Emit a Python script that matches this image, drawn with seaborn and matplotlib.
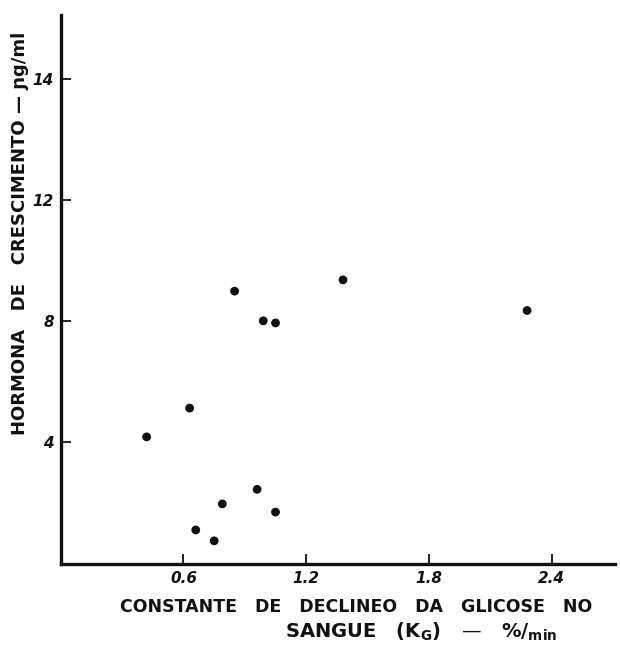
import matplotlib
matplotlib.use("Agg")
import matplotlib.pyplot as plt
import seaborn as sns
import pandas as pd

# values
kg = [0.85, 1.38, 2.28, 0.99, 1.05, 0.63, 0.42, 0.96, 0.79, 1.05, 0.66, 0.75]
gh = [8.99, 9.36, 8.35, 8.01, 7.94, 5.13, 4.18, 2.45, 1.97, 1.70, 1.11, 0.75]
x_ticks = [0.6, 1.2, 1.8, 2.4]
x_tick_labels = ["0.6", "1.2", "1.8", "2.4"]
y_ticks = [4, 8, 12, 16]
y_tick_labels = ["4", "8", "12", "14"]  # the original prints 14 at the top tick

df = pd.DataFrame({"kg": kg, "gh": gh})

sns.set_style("ticks")
plt.rcParams["font.family"] = ["DejaVu Sans"]

fig = plt.figure(figsize=(6.2, 6.49), dpi=100)
ax = fig.add_axes([0.098, 0.1316, 0.894, 0.8453])

sns.scatterplot(data=df, x="kg", y="gh", ax=ax, color="#111111", s=40,
                edgecolor="none", legend=False)

ax.set_xlim(0, 2.71)
ax.set_ylim(0, 18.1)
ax.set_xticks(x_ticks)
ax.set_xticklabels(x_tick_labels, fontsize=11, fontstyle="italic", fontweight="bold")
ax.set_yticks(y_ticks)
ax.set_yticklabels(y_tick_labels, fontsize=11, fontstyle="italic", fontweight="bold")
ax.tick_params(direction="in", length=7, width=1.3, colors="#111111", pad=5)
ax.set_xlabel("")
ax.set_ylabel("")

sns.despine(ax=ax)
for side in ["left", "bottom"]:
    ax.spines[side].set_linewidth(2.4)
    ax.spines[side].set_color("#111111")

lab = dict(fontweight="bold", color="#111111", ha="center", va="center")
fig.text(0.032, 0.64, "HORMONA   DE   CRESCIMENTO — ɲg/ml", rotation=90,
         fontsize=13, **lab)
fig.text(0.574, 0.065, "CONSTANTE   DE   DECLINEO   DA   GLICOSE   NO",
         fontsize=12.5, **lab)
fig.text(0.679, 0.026,
         r"SANGUE   (K$_{\mathbf{G}}$)   —   %$\mathbf{/}_{\mathbf{min}}$",
         fontsize=14, **lab)

fig.savefig("out.png", dpi=100)
